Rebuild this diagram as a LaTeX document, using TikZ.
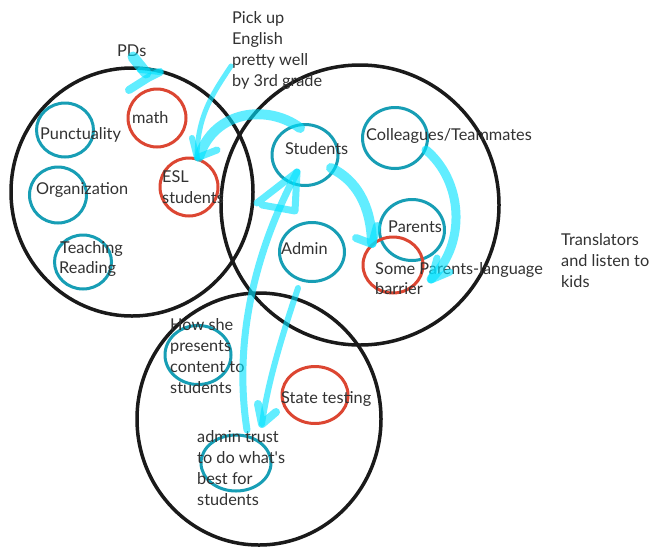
\documentclass[tikz,border=0pt]{standalone}
\usepackage{fontspec}
\setmainfont{Lato}
\definecolor{ink}{RGB}{26,26,26}
\definecolor{tealc}{RGB}{23,158,181}
\definecolor{redc}{RGB}{220,70,50}
\definecolor{hlc}{RGB}{0,226,255}
\definecolor{txt}{RGB}{50,50,50}
\tikzset{
  bigring/.style={draw=ink, line width=3.5pt, fill=none},
  tring/.style={ellipse, draw=tealc, line width=3pt, inner sep=0pt},
  rring/.style={ellipse, draw=redc, line width=3pt, inner sep=0pt},
  lbl/.style={anchor=base west, inner sep=0pt, text=txt, font=\fontsize{16.3}{21}\selectfont},
  hl/.style={draw=hlc, line width=#1, line cap=round, line join=round, opacity=0.62},
  hl/.default=8pt,
}
\usetikzlibrary{shapes.geometric}
\begin{document}
\begin{tikzpicture}[x=1pt,y=-1pt]
\useasboundingbox (0,0) rectangle (652,549);
\fill[white] (0,0) rectangle (652,549);

% three overlapping domains
\draw[bigring] (132,192) ellipse [x radius=121pt, y radius=124pt];
\draw[bigring] (360,205) ellipse [x radius=139pt, y radius=140pt];
\draw[bigring] (259,419) ellipse [x radius=122pt, y radius=126pt];

% small rings
\node[tring, minimum width=57pt, minimum height=54pt] (punct) at (65,130) {};
\node[tring, minimum width=57pt, minimum height=56pt] (organ) at (58,195) {};
\node[tring, minimum width=57pt, minimum height=54pt] (teach) at (83,262) {};
\node[rring, minimum width=58pt, minimum height=58pt] (mathc) at (157,118) {};
\node[rring, minimum width=58pt, minimum height=58pt] (eslc) at (189,187) {};
\node[tring, minimum width=66pt, minimum height=61pt] (studc) at (305,155) {};
\node[tring, minimum width=65pt, minimum height=61pt] (collc) at (395,138) {};
\node[tring, minimum width=65pt, minimum height=61pt] (parc) at (412,230) {};
\node[rring, minimum width=60pt, minimum height=56pt] (someparc) at (393,265) {};
\node[tring, minimum width=65pt, minimum height=59pt] (adminc) at (312,252) {};
\node[tring, minimum width=66pt, minimum height=59pt] (howc) at (198,355) {};
\node[rring, minimum width=66pt, minimum height=57pt] (statec) at (315,395) {};
\node[tring, minimum width=70pt, minimum height=56pt] (trustc) at (236,463) {};

% labels
\node[lbl] (pds) at (117,56) {PDs};
\node[lbl] (pick1) at (232,23) {Pick up};
\node[lbl] (pick2) at (232,44) {English};
\node[lbl] (pick3) at (232,65) {pretty well};
\node[lbl] (pick4) at (232,86) {by 3rd grade};
\node[lbl] (punct t) at (40,139) {Punctuality};
\node[lbl] (math t) at (132,123) {math};
\node[lbl] (organ t) at (36,194) {Organization};
\node[lbl] (esl1) at (162,182) {ESL};
\node[lbl] (esl2) at (162,203) {students};
\node[lbl] (teach1) at (60,253) {Teaching};
\node[lbl] (teach2) at (59,273) {Reading};
\node[lbl] (stud t) at (285,154) {Students};
\node[lbl] (coll t) at (366,140) {Colleagues/Teammates};
\node[lbl] (par t) at (388,232) {Parents};
\node[lbl] (admin t) at (281,254) {Admin};
\node[lbl] (some1) at (375,274) {Some Parents-language};
\node[lbl] (some2) at (375,294) {barrier};
\node[lbl] (tr1) at (561,245) {Translators};
\node[lbl] (tr2) at (561,266) {and listen to};
\node[lbl] (tr3) at (561,287) {kids};
\node[lbl] (how1) at (170,330) {How she};
\node[lbl] (how2) at (170,351) {presents};
\node[lbl] (how3) at (170,372) {content to};
\node[lbl] (how4) at (170,393) {students};
\node[lbl] (state t) at (281,403) {State testing};
\node[lbl] (trust1) at (197,442) {admin trust};
\node[lbl] (trust2) at (197,463) {to do what\textquotesingle s};
\node[lbl] (trust3) at (197,484) {best for};
\node[lbl] (trust4) at (197,505) {students};

% highlighter arrows
% PDs -> math
\draw[hl=11pt] (133,57) -- (146,73);
\draw[hl=8pt] (129,90) -- (148,78) -- (160,72);
\draw[hl=6pt] (140,70) -- (160,72);
% Pick up English -> ESL students
\draw[hl=5pt] (231,66) .. controls (214,92) and (197,115) .. (197,158);
\draw[hl=6pt] (197,158) -- (192,138);
% Students -> ESL students
\draw[hl=10pt] (300,128) .. controls (268,104) and (214,110) .. (199,157);
\draw[hl=7pt] (199,157) -- (217,150);
% admin trust -> Students
\draw[hl=7pt] (247,430) .. controls (236,360) and (245,270) .. (297,172);
\draw[hl=7pt] (257,203) -- (297,172) -- (295,211) -- (262,205);
% Admin -> admin trust
\draw[hl=6pt] (298,288) .. controls (284,330) and (268,380) .. (262,424);
\draw[hl=8pt] (258,404) -- (262,424) -- (276,412);
% Students -> Some Parents
\draw[hl=10pt] (331,168) .. controls (356,180) and (371,205) .. (372,243);
\draw[hl=8pt] (356,238) -- (372,244) -- (377,226);
% Colleagues -> Some Parents
\draw[hl=9pt] (426,150) .. controls (462,180) and (468,242) .. (431,279);
\draw[hl=7pt] (437,258) -- (431,280) -- (450,272);
\end{tikzpicture}
\end{document}
